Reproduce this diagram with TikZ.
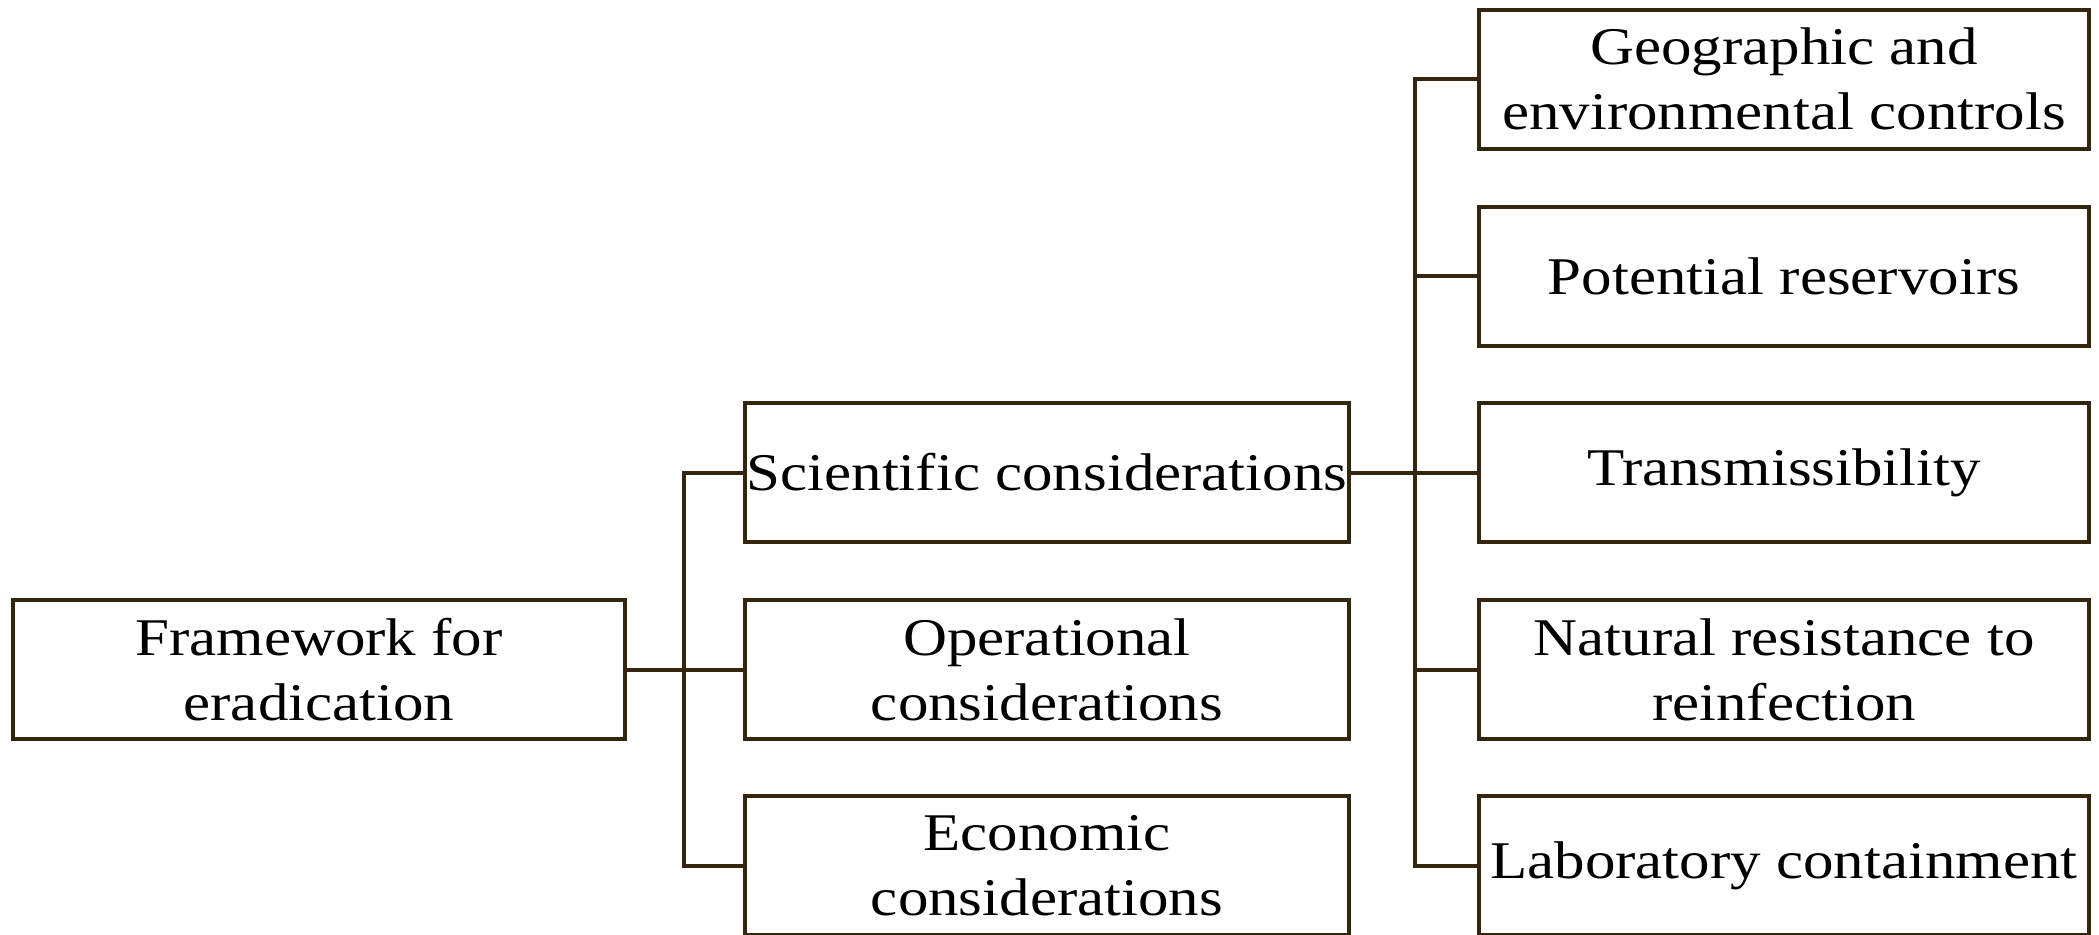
\documentclass[tikz,border=0pt]{standalone}
\usepackage{fontspec}
\setmainfont{Liberation Serif}[FakeStretch=1.15]
\definecolor{linebrown}{RGB}{52,38,14}
\begin{document}
\begin{tikzpicture}[x=0.5pt,y=-0.5pt,
  box/.style={draw=linebrown, line width=2pt, fill=white, align=center,
    inner sep=0pt, minimum height=69.5pt,
    font=\fontsize{26.5}{32.5}\selectfont},
  rootbox/.style={box, minimum width=306pt},
  midbox/.style={box, minimum width=302pt},
  leafbox/.style={box, minimum width=305pt},
  link/.style={draw=linebrown, line width=2pt}]
\useasboundingbox (0,0) rectangle (2099,934);

% root
\node[rootbox] (fw) at (319,669.5) {Framework for\\eradication};

% second level
\node[midbox] (sci) at (1047,472.5) {Scientific considerations};
\node[midbox] (op)  at (1047,669.5) {Operational\\considerations};
\node[midbox] (eco) at (1047,865.5) {Economic\\considerations};

% scientific sub-topics
\node[leafbox] (geo) at (1784,79)   {Geographic and\\environmental controls};
\node[leafbox] (pot) at (1784,276)  {Potential reservoirs};
\node[leafbox] (tra) at (1784,472.5){Transmissibility};
\node[leafbox] (nat) at (1784,669.5){Natural resistance to\\reinfection};
\node[leafbox] (lab) at (1784,865.5){Laboratory containment};

% trunk positions
\coordinate (t1) at (684,0);
\coordinate (t2) at (1415,0);

% connectors from the root
\draw[link] (fw.east) -- (fw.east -| t1);
\draw[link] (sci.west) -- (sci.west -| t1) |- (eco.west);
\draw[link] (op.west -| t1) -- (op.west);

% connectors from scientific considerations
\draw[link] (sci.east) -- (sci.east -| t2);
\draw[link] (geo.west) -- (geo.west -| t2) |- (lab.west);
\draw[link] (pot.west -| t2) -- (pot.west);
\draw[link] (tra.west -| t2) -- (tra.west);
\draw[link] (nat.west -| t2) -- (nat.west);
\end{tikzpicture}
\end{document}
